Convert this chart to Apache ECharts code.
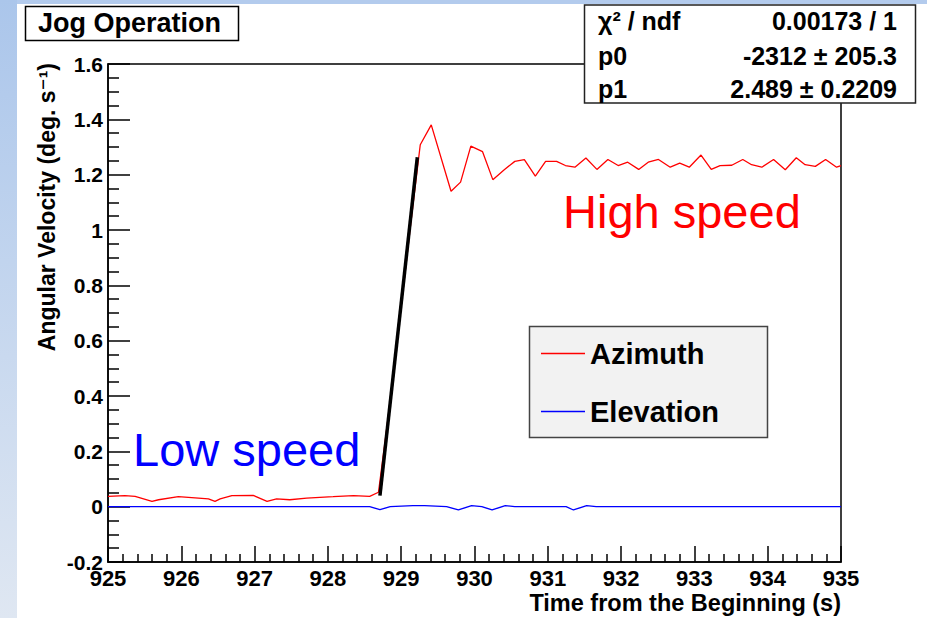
<!DOCTYPE html>
<html>
<head>
<meta charset="utf-8">
<title>Jog Operation</title>
<script src="https://cdn.jsdelivr.net/npm/echarts@6/dist/echarts.min.js"></script>
<style>
html, body { margin: 0; padding: 0; background: #fff; }
#center { width: 927px; height: 618px; }
</style>
</head>
<body>
<div id="center"></div>
<script>
/* ============================= data ============================= */
// Azimuth (red), time in s / angular velocity in deg/s
var azTime = [925.00, 925.23, 925.37, 925.60, 925.69, 925.96, 926.37, 926.46, 926.53, 926.69,
	926.98, 927.17, 927.30, 927.48, 927.71, 928.07, 928.35, 928.57, 928.69, 928.84,
	928.98, 929.12, 929.26, 929.41, 929.68, 929.81, 929.95, 930.11, 930.25, 930.41,
	930.55, 930.68, 930.83, 930.97, 931.12, 931.24, 931.37, 931.52, 931.67, 931.82,
	931.96, 932.09, 932.24, 932.37, 932.51, 932.67, 932.80, 932.93, 933.09, 933.23,
	933.35, 933.51, 933.66, 933.78, 933.92, 934.08, 934.24, 934.39, 934.51, 934.65,
	934.79, 934.94, 935.00];
var azVal = [0.037, 0.040, 0.037, 0.019, 0.025, 0.036, 0.028, 0.019, 0.028, 0.040,
	0.041, 0.019, 0.028, 0.025, 0.031, 0.036, 0.040, 0.037, 0.052, 0.360,
	0.680, 1.000, 1.308, 1.380, 1.140, 1.173, 1.303, 1.283, 1.182, 1.219,
	1.248, 1.254, 1.195, 1.248, 1.248, 1.233, 1.227, 1.260, 1.219, 1.255,
	1.233, 1.245, 1.219, 1.245, 1.255, 1.227, 1.242, 1.227, 1.271, 1.219,
	1.233, 1.234, 1.255, 1.236, 1.227, 1.255, 1.218, 1.261, 1.236, 1.230,
	1.255, 1.227, 1.233];

// Elevation (blue)
var elTime = [925.00, 928.57, 928.71, 928.85, 929.16, 929.32, 929.62, 929.78, 929.96, 930.10,
	930.24, 930.42, 930.55, 931.25, 931.35, 931.53, 931.66, 935.00];
var elVal = [0, 0, -0.011, 0, 0.004, 0.004, 0, -0.012, 0.004, 0,
	-0.012, 0.004, 0, 0, -0.012, 0.004, 0, 0];

// linear fit (black)
var fitTime = [928.71, 929.22];
var fitVal = [0.040, 1.263];

// fit statistics box
var statNames = ['\u03c7\u00b2 / ndf', 'p0', 'p1'];
var statValues = ['0.00173 / 1', '-2312 \u00b1 205.3', '2.489 \u00b1 0.2209'];

function pairs(xs, ys) {
	var out = [];
	for (var i = 0; i < xs.length; i++) {
		out.push([xs[i], ys[i]]);
	}
	return out;
}

/* ============================= layout ============================= */
var FONT = '"Liberation Sans", Arial, "DejaVu Sans", sans-serif';
var RED = '#ff0000', BLUE = '#0000ff';
var gridL = 108, gridT = 64, gridW = 733, gridH = 498;

var graphics = [];
// page background strips
graphics.push({
	type: 'rect', z: 0, silent: true,
	shape: { x: 0, y: 0, width: 17, height: 618 },
	style: { fill: new echarts.graphic.LinearGradient(0, 0, 0, 1, [
		{ offset: 0, color: '#abc6eb' }, { offset: 1, color: '#dfe7f2' }]) }
});
graphics.push({
	type: 'rect', z: 0, silent: true,
	shape: { x: 17, y: 0, width: 910, height: 4 },
	style: { fill: '#b3cbed' }
});
// title box
graphics.push({
	type: 'rect', z: 10,
	shape: { x: 25.5, y: 6.5, width: 213, height: 34 },
	style: { fill: '#fff', stroke: '#000', lineWidth: 1.5 }
});
graphics.push({
	type: 'text', z: 11,
	style: { x: 38, y: 23, text: 'Jog Operation', font: 'bold 27px ' + FONT, fill: '#000',
		align: 'left', verticalAlign: 'middle' }
});
// stats box
graphics.push({
	type: 'rect', z: 10,
	shape: { x: 584.5, y: 5, width: 331, height: 98 },
	style: { fill: '#fff', stroke: '#222', lineWidth: 1.5 }
});
var rowY = [21, 56, 89];
for (var i = 0; i < statNames.length; i++) {
	graphics.push({
		type: 'text', z: 11,
		style: { x: 598, y: rowY[i], text: statNames[i], font: 'bold 25px ' + FONT, fill: '#000',
			align: 'left', verticalAlign: 'middle' }
	});
	graphics.push({
		type: 'text', z: 11,
		style: { x: 897, y: rowY[i], text: statValues[i], font: 'bold 25px ' + FONT, fill: '#000',
			align: 'right', verticalAlign: 'middle' }
	});
}
// legend box
graphics.push({
	type: 'rect', z: 10,
	shape: { x: 529.5, y: 326.5, width: 238, height: 111 },
	style: { fill: '#f2f2f2', stroke: '#444', lineWidth: 1.5 }
});
// annotations
graphics.push({
	type: 'text', z: 11,
	style: { x: 563, y: 211, text: 'High speed', font: '47px ' + FONT, fill: RED,
		align: 'left', verticalAlign: 'middle' }
});
graphics.push({
	type: 'text', z: 11,
	style: { x: 133, y: 449, text: 'Low speed', font: '47px ' + FONT, fill: BLUE,
		align: 'left', verticalAlign: 'middle' }
});
// axis titles
graphics.push({
	type: 'text', z: 11, x: 47, y: 63, rotation: Math.PI / 2,
	style: { text: 'Angular Velocity (deg. s\u207b\u00b9)', font: 'bold 23px ' + FONT, fill: '#000',
		align: 'right', verticalAlign: 'middle' }
});
graphics.push({
	type: 'text', z: 11,
	style: { x: 841, y: 603, text: 'Time from the Beginning (s)', font: 'bold 23.5px ' + FONT, fill: '#000',
		align: 'right', verticalAlign: 'middle' }
});

var option = {
	animation: false,
	backgroundColor: '#fff',
	grid: {
		left: gridL, top: gridT, width: gridW, height: gridH,
		show: true, borderColor: '#000', borderWidth: 1.5, backgroundColor: 'transparent'
	},
	legend: {
		left: 536, top: 334, orient: 'vertical', z: 12,
		itemWidth: 44, itemHeight: 1.5, itemGap: 29,
		icon: 'rect',
		textStyle: { fontFamily: FONT, fontWeight: 'bold', fontSize: 29, color: '#000' },
		data: [
			{ name: 'Azimuth', itemStyle: { color: RED, borderWidth: 0 } },
			{ name: 'Elevation', itemStyle: { color: BLUE, borderWidth: 0 } }
		]
	},
	xAxis: {
		type: 'value', min: 925, max: 935, interval: 1,
		axisLine: { show: true, onZero: false, lineStyle: { color: '#000', width: 1.5 } },
		axisTick: { show: true, inside: true, length: 16, lineStyle: { color: '#000', width: 1.5 } },
		minorTick: { show: true, splitNumber: 5, length: 8, lineStyle: { color: '#000', width: 1.5 } },
		splitLine: { show: false },
		axisLabel: { margin: 5, fontFamily: FONT, fontWeight: 'bold', fontSize: 22, color: '#000' }
	},
	yAxis: {
		type: 'value', min: -0.2, max: 1.6, interval: 0.2,
		axisLine: { show: true, onZero: false, lineStyle: { color: '#000', width: 1.5 } },
		axisTick: { show: true, inside: true, length: 22, lineStyle: { color: '#000', width: 1.5 } },
		minorTick: { show: true, splitNumber: 4, length: 11, lineStyle: { color: '#000', width: 1.5 } },
		splitLine: { show: false },
		axisLabel: { margin: 5, fontFamily: FONT, fontWeight: 'bold', fontSize: 21, color: '#000' }
	},
	series: [
		{
			name: 'Azimuth', type: 'line', showSymbol: false, z: 3,
			lineStyle: { color: RED, width: 1.3 }, itemStyle: { color: RED },
			data: pairs(azTime, azVal)
		},
		{
			name: 'Elevation', type: 'line', showSymbol: false, z: 3,
			lineStyle: { color: BLUE, width: 1.3 }, itemStyle: { color: BLUE },
			data: pairs(elTime, elVal)
		},
		{
			name: 'fit', type: 'line', showSymbol: false, z: 4,
			lineStyle: { color: '#000', width: 3.5 }, itemStyle: { color: '#000' },
			data: pairs(fitTime, fitVal)
		}
	],
	graphic: graphics
};

var chart = echarts.init(document.getElementById('center'), null, { renderer: 'svg' });
chart.setOption(option);
</script>
</body>
</html>
